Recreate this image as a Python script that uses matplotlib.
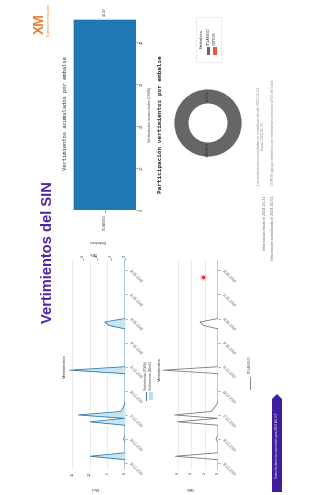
import matplotlib
matplotlib.use('Agg')
import matplotlib.pyplot as plt
import matplotlib.dates as mdates
from matplotlib.patches import Rectangle, Polygon
from matplotlib.lines import Line2D
import numpy as np
import pandas as pd

plt.rcParams['font.family'] = ['Liberation Sans', 'DejaVu Sans']

dates = pd.date_range('2023-12-01', '2024-01-31', freq='D')

# ITUANGO spill per day (GWh), chart 2
ituango_gwh = np.zeros(len(dates))
for d, v in {4: 6.4, 9: 0.3, 14: 6.1, 15: 0.1, 16: 6.5, 17: 1.0, 18: 0.6, 19: 0.2,
             29: 8.2, 42: 2.2, 43: 2.7}.items():
    ituango_gwh[d] = v

# chart 1: line (GWh, top axis) and fill (Mm3, bottom axis)
vert_gwh = np.zeros(len(dates))
for d, v in {4: 5.0, 9: 0.2, 14: 5.0, 15: 0.1, 16: 6.7, 17: 0.6, 18: 0.3, 19: 0.1,
             29: 7.9, 42: 2.3, 43: 2.9}.items():
    vert_gwh[d] = v
vert_mm3 = np.zeros(len(dates))
for d, v in {4: 10.0, 9: 0.4, 14: 10.0, 15: 0.2, 16: 13.5, 17: 1.2, 18: 0.6, 19: 0.2,
             29: 15.9, 42: 4.6, 43: 5.8}.items():
    vert_mm3[d] = v

embalses = ['ITUANGO']
acumulado = [45.47]
pie_labels = ['ITUANGO', 'OTROS']
pie_values = [45.47, 0.0]
pie_colors = ['#666666', '#ef553b']

date_ticks = pd.date_range('2023-12-03', '2024-01-28', freq='7D')
marker_date = [pd.Timestamp('2024-01-26')]
marker_value = [2.2]

# ---- figure (dashboard is rotated 90 degrees) ----
W, H = 318, 495
fig = plt.figure(figsize=(W / 100, H / 100), dpi=100)
fig.patch.set_facecolor('white')


def px_axes(x0, y0, x1, y1):
    return fig.add_axes([x0 / W, 1 - y1 / H, (x1 - x0) / W, (y1 - y0) / H])


def fx(x):
    return x / W


def fy(y):
    return 1 - y / H


def ftext(x, y, s, **kw):
    kw.setdefault('rotation', 90)
    return fig.text(fx(x), fy(y), s, **kw)


GRAY = '#555555'
PURPLE = '#4b23a9'

# title + logo
ftext(48, 252, 'Vertimientos del SIN', fontsize=10.5, fontweight='bold', color=PURPLE,
      ha='center', va='center')
ftext(40, 34, 'XM', fontsize=10, fontweight='bold', color='#f07d2a', ha='center', va='bottom')
ftext(49, 36, 'Expertos en mercados', fontsize=2.3, color='#f07d2a', ha='center', va='bottom')

# ---- bar chart ----
axb = px_axes(73, 4, 136, 210)
axb.bar(range(len(embalses)), acumulado, width=1.0, color='#1f77b4', edgecolor='#cfe3f2', lw=0.4)
for i, v in enumerate(acumulado):
    axb.text(i, v + 0.6, f'{v:.2f}', rotation=90, ha='center', va='bottom', fontsize=2.6, color='#333')
axb.set_xlim(-0.5, len(embalses) - 0.5)
axb.set_ylim(0, 49)
axb.set_xticks(range(len(embalses)))
axb.set_xticklabels(embalses, rotation=90, fontsize=2.6, color='#444')
axb.set_yticks([0, 10, 20, 30, 40])
axb.yaxis.tick_right()
axb.tick_params(axis='y', labelsize=2.8, labelrotation=90, length=1.5, width=0.4, colors='#444', pad=1)
axb.tick_params(axis='x', length=1.5, width=0.4, pad=1)
for lab in axb.get_yticklabels():
    lab.set_va('center')
for s in axb.spines.values():
    s.set_visible(False)
ftext(65, 113, 'Vertimientos acumulados por embalse', family='DejaVu Sans Mono', fontsize=4,
      color='#333', ha='center', va='center')
ftext(150, 114, 'Vertimientos acumulados (GWh)', fontsize=2.8, color='#444', ha='center', va='center')
ftext(97, 241, 'Embalses', rotation=180, fontsize=2.8, color='#444', ha='center', va='center')

# ---- donut ----
axp = px_axes(166, 81, 250, 165)
wedges, texts, autotexts = axp.pie(pie_values, colors=pie_colors, startangle=90, counterclock=True,
                                   wedgeprops=dict(width=0.42, edgecolor='none'),
                                   autopct='%1.1f %%', pctdistance=0.79)
for t in autotexts:
    t.set_rotation(90)
    t.set_fontsize(2.8)
    t.set_color('#222')
axp.set_aspect('equal')
ftext(160, 124, 'Participación vertimientos por embalse', family='DejaVu Sans Mono', fontsize=4.3,
      fontweight='bold', color='#333', ha='center', va='center')

# donut legend
fig.patches.append(Rectangle((fx(196), fy(62)), fx(25), (62 - 17) / H, transform=fig.transFigure,
                             facecolor='white', edgecolor='#dddddd', lw=0.4))
ftext(202, 48, 'Embalses', fontsize=3.2, color='#333', ha='center', va='bottom')
for k, (lab, col) in enumerate(zip(pie_labels, pie_colors)):
    xk = 208.5 + k * 6.5
    fig.patches.append(Rectangle((fx(xk - 1.8), fy(55)), fx(3.6), 8 / H, transform=fig.transFigure,
                                 facecolor=col, edgecolor='none'))
    ftext(xk, 45, lab, fontsize=2.8, color='#333', ha='center', va='bottom')

# notes
ftext(261, 185, 'Los vertimientos acumulados se consideran desde 2023-12-01\nhasta 2024-01-31.',
      fontsize=2.5, color='#888', ha='center', va='bottom', linespacing=1.3)
ftext(273, 185, 'OTROS agrupa embalses con vertimientos menores al 5% del total.',
      fontsize=2.5, color='#888', ha='center', va='bottom')
ftext(265, 196, 'Información hasta el 2024-01-31', fontsize=2.7, color='#666', ha='center', va='top')
ftext(273, 196, 'Información actualizada el 2024-02-01', fontsize=2.7, color='#666', ha='center', va='top')


def date_axis(ax):
    ax.set_ylim(mdates.date2num(dates[0]), mdates.date2num(dates[-1]))
    ax.yaxis.tick_right()
    ax.set_yticks(mdates.date2num(date_ticks))
    ax.set_yticklabels([d.strftime('%d-%m-%Y') for d in date_ticks])
    ax.tick_params(axis='y', labelsize=2.4, length=1.5, width=0.4, colors='#555', pad=1.5)
    for lab in ax.get_yticklabels():
        lab.set_rotation(-45)
        lab.set_rotation_mode('anchor')
        lab.set_ha('left')
        lab.set_va('center')
    for s in ax.spines.values():
        s.set_visible(False)


yd = mdates.date2num(dates)

# ---- chart 1: Vertimientos ----
ax1 = px_axes(67, 260, 125, 470)
ax1.fill_betweenx(yd, 0, vert_mm3, color='#b9e0ea', alpha=0.8, lw=0)
ax1.set_xlim(16.5, 0)
ax1.set_xticks([0, 5, 10, 15])
ax1.grid(axis='x', color='#e3e3e3', lw=0.5)
ax1.set_axisbelow(True)
ax1.tick_params(axis='x', labelsize=2.8, labelrotation=90, length=0, colors='#444', pad=1.5)
date_axis(ax1)
ax1t = ax1.twiny()
ax1t.plot(vert_gwh, yd, color='#2a78b5', lw=0.6)
ax1t.set_xlim(8.3, 0)
ax1t.set_xticks([0, 2, 4, 6])
ax1t.tick_params(axis='x', labelsize=2.8, labelrotation=90, length=1.2, width=0.4, colors='#444', pad=1)
for s in ax1t.spines.values():
    s.set_visible(False)
ftext(65, 366, 'Vertimientos', fontsize=3.2, color='#333', ha='center', va='center')
ftext(95, 488, 'Mm3', rotation=180, fontsize=2.6, color='#444', ha='center', va='center')
ftext(93, 253, 'GWh', rotation=180, fontsize=2.4, color='#444', ha='center', va='center')

# chart 1 legend
fig.lines.append(Line2D([fx(146), fx(146)], [fy(400), fy(392)], transform=fig.transFigure,
                        color='#2a78b5', lw=0.7))
ftext(146, 390, 'Vertimiento (GWh)', fontsize=2.5, color='#444', ha='center', va='bottom')
fig.patches.append(Rectangle((fx(149), fy(400)), fx(3.5), 8 / H, transform=fig.transFigure,
                             facecolor='#b9e0ea', edgecolor='none'))
ftext(151, 390, 'Vertimiento (Mm3)', fontsize=2.5, color='#444', ha='center', va='bottom')
ftext(160, 381, 'Vertimientos', fontsize=3.2, color='#333', ha='center', va='bottom')

# ---- chart 2: by reservoir ----
ax2 = px_axes(162, 260, 218, 470)
ax2.plot(ituango_gwh, yd, color='#777777', lw=0.6)
ax2.scatter(marker_value, mdates.date2num(marker_date), s=22, color='#ff3030', alpha=0.25, lw=0)
ax2.scatter(marker_value, mdates.date2num(marker_date), s=5, color='#e8141b', lw=0)
ax2.set_xlim(8.4, 0)
ax2.set_xticks([0, 2, 4, 6])
ax2.grid(axis='x', color='#e3e3e3', lw=0.5)
ax2.set_axisbelow(True)
ax2.tick_params(axis='x', labelsize=2.8, labelrotation=90, length=0, colors='#444', pad=1.5)
date_axis(ax2)
ftext(190, 488, 'GWh', rotation=180, fontsize=2.6, color='#444', ha='center', va='center')

fig.lines.append(Line2D([fx(250), fx(250)], [fy(389), fy(377)], transform=fig.transFigure,
                        color='#777777', lw=0.6))
ftext(250, 373, 'ITUANGO', fontsize=2.8, color='#555', ha='center', va='bottom')

# footer
footer = Polygon([(fx(272), fy(492)), (fx(272), fy(399)), (fx(277), fy(394)), (fx(282), fy(399)),
                  (fx(282), fy(492))], closed=True, transform=fig.transFigure,
                 facecolor='#3f1d9e', edgecolor='none')
fig.patches.append(footer)
ftext(277, 445, 'Todos los derechos reservados para XM S.A E.S.P.', fontsize=2.1, color='white',
      ha='center', va='center')

fig.savefig('out.png', dpi=100)
